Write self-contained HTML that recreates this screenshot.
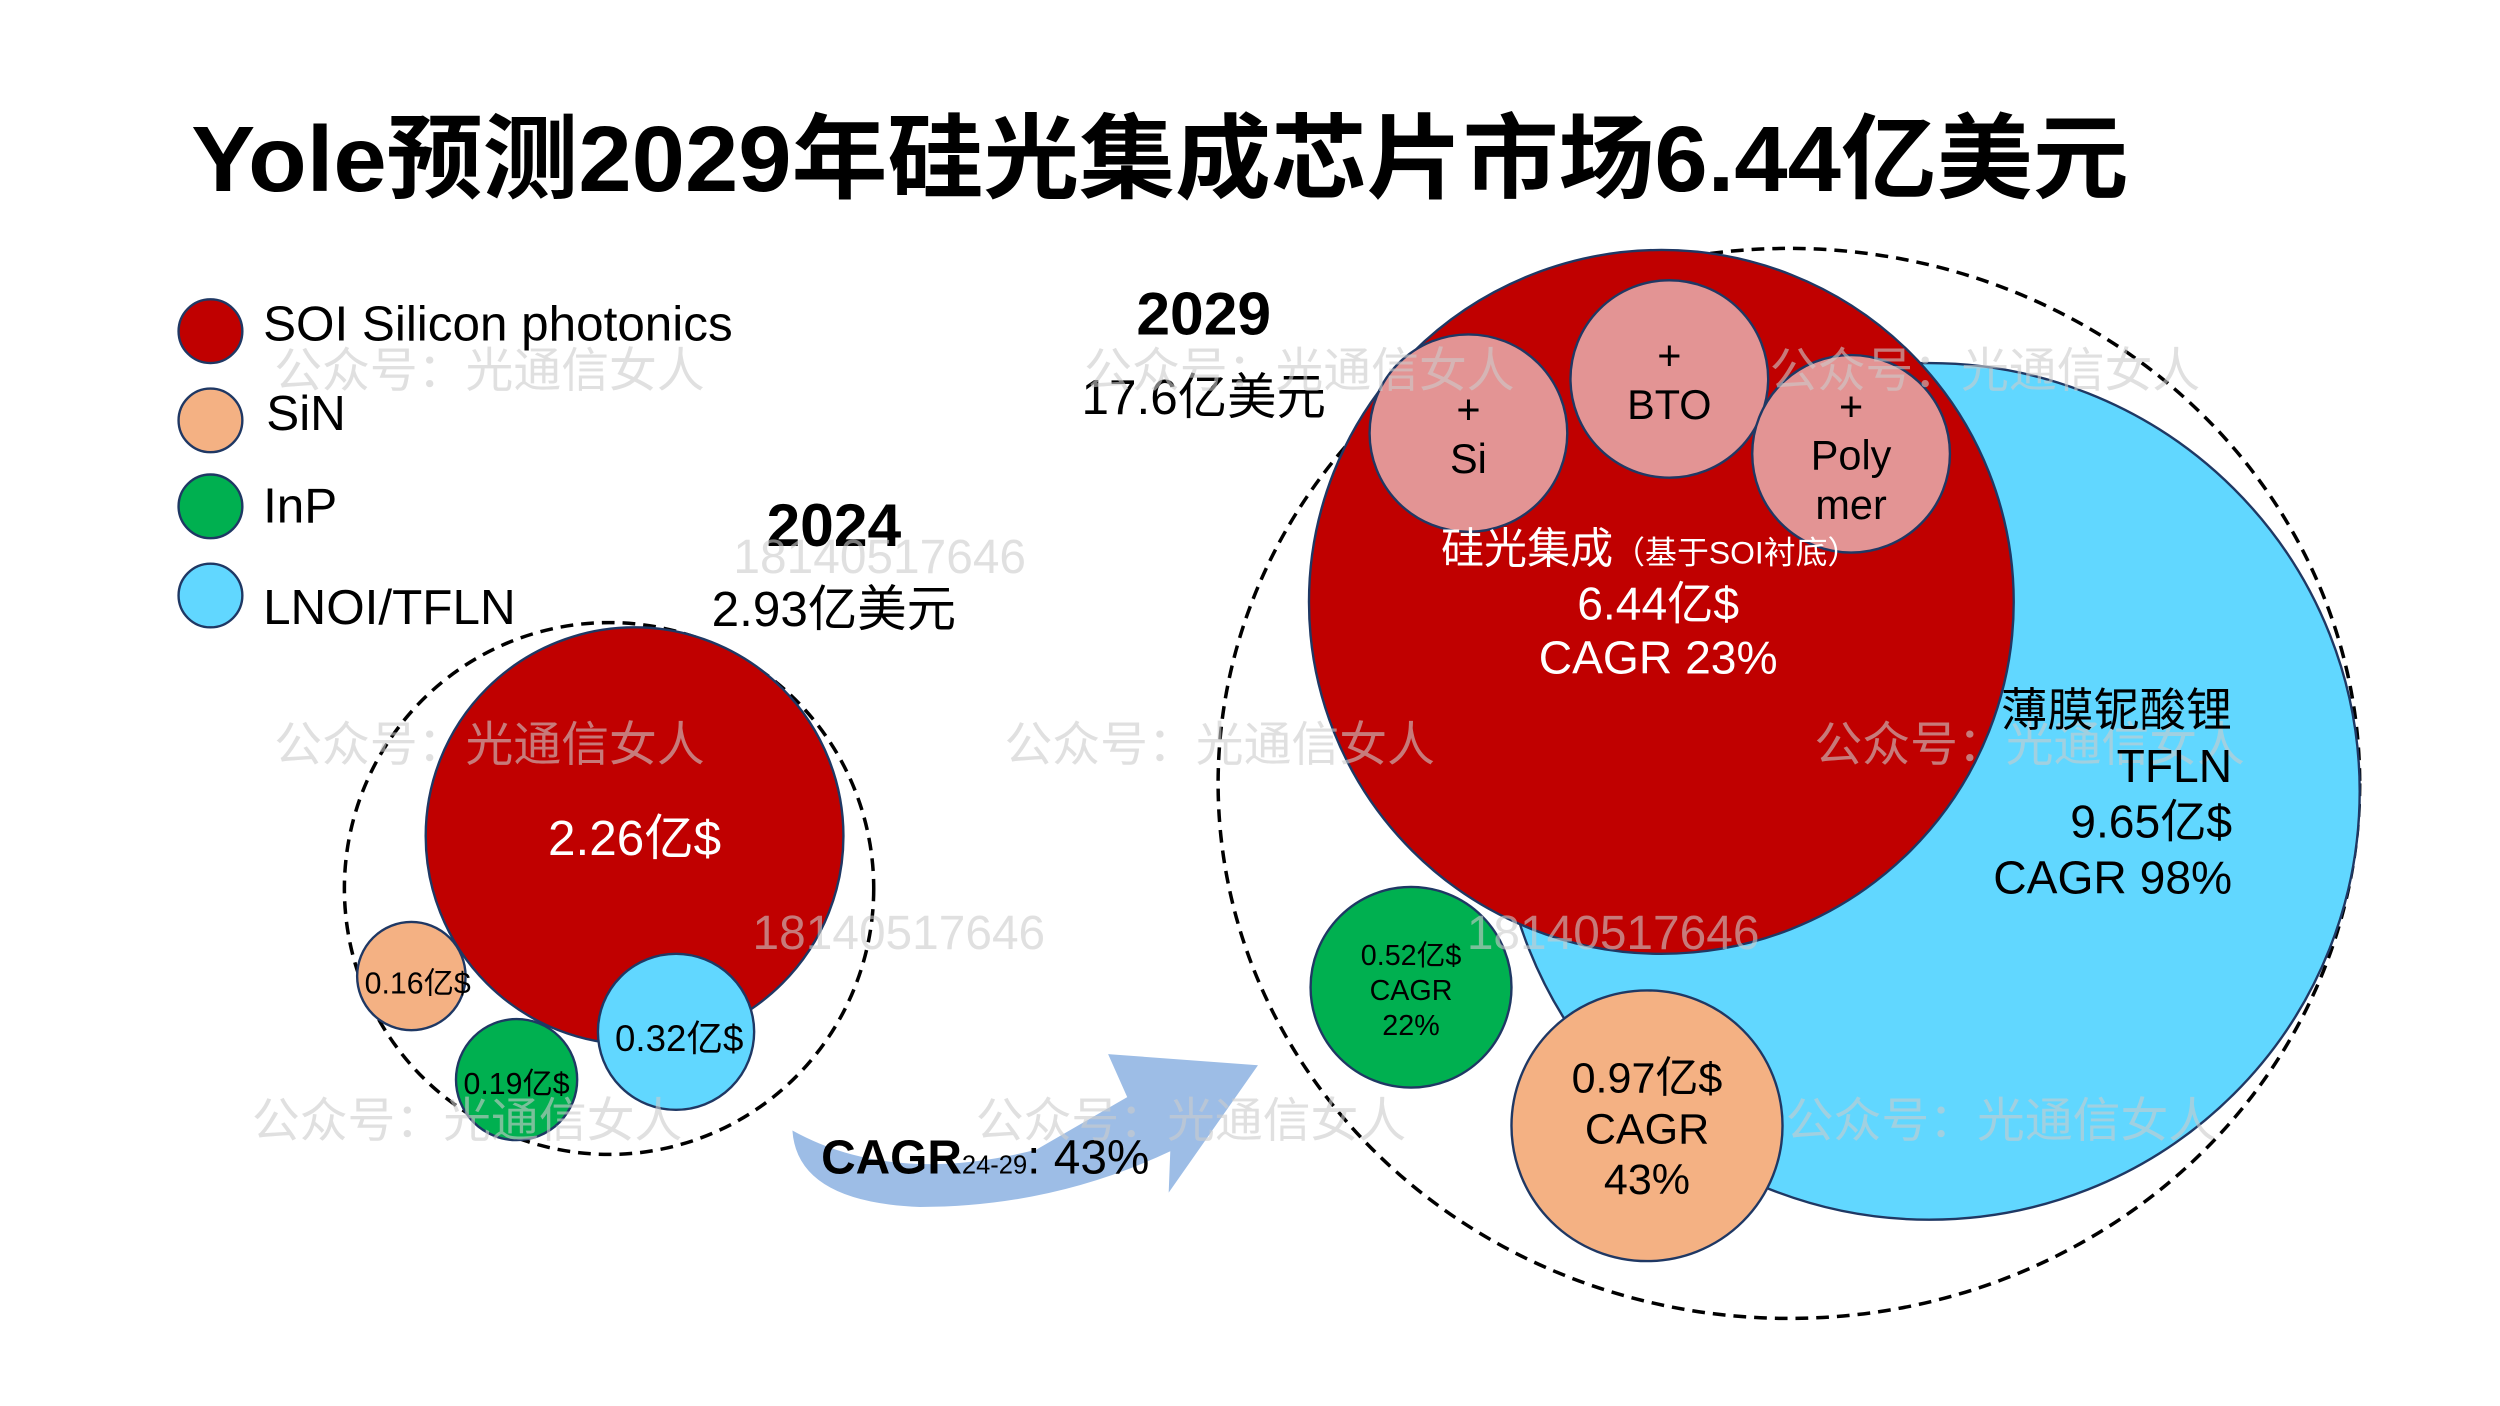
<!DOCTYPE html>
<html><head><meta charset="utf-8"><style>
html,body{margin:0;padding:0;background:#fff;}
svg{display:block;}
text{font-family:"Liberation Sans","Noto Sans CJK SC",sans-serif;}
</style></head><body>
<svg width="2500" height="1406" viewBox="0 0 1568 883" preserveAspectRatio="none" xmlns="http://www.w3.org/2000/svg">
<rect width="1568" height="883" fill="#fff"/>
<!-- title -->
<text x="120" y="120" font-size="58" font-weight="bold" fill="#000" textLength="1215" lengthAdjust="spacingAndGlyphs">Yole预测2029年硅光集成芯片市场6.44亿美元</text>
<!-- legend -->
<g stroke="#1f3864" stroke-width="1.5">
<circle cx="132" cy="208" r="20" fill="#c00000"/>
<circle cx="132" cy="264" r="20" fill="#f4b183"/>
<circle cx="132" cy="318" r="20" fill="#00b050"/>
<circle cx="132" cy="374" r="20" fill="#61d7ff"/>
</g>
<g font-size="31" fill="#000">
<text x="165" y="214">SOI Silicon photonics</text>
<text x="167" y="270">SiN</text>
<text x="165" y="328">InP</text>
<text x="165" y="392">LNOI/TFLN</text>
</g>
<!-- 2024 -->
<text x="523" y="343" font-size="38" font-weight="bold" text-anchor="middle">2024</text>
<text x="523" y="393" font-size="31" text-anchor="middle">2.93亿美元</text>
<ellipse cx="382" cy="558" rx="166" ry="167" fill="none" stroke="#000" stroke-width="2.2" stroke-dasharray="8,5"/>
<g stroke="#1f3864" stroke-width="1.5">
<circle cx="398" cy="525" r="131" fill="#c00000"/>
<circle cx="258" cy="613" r="34" fill="#f4b183"/>
<circle cx="324" cy="678" r="38" fill="#00b050"/>
<circle cx="424" cy="648" r="49" fill="#61d7ff"/>
</g>
<text x="398" y="537" font-size="31" fill="#fff" text-anchor="middle">2.26亿$</text>
<text x="262" y="624" font-size="19" text-anchor="middle">0.16亿$</text>
<text x="324" y="687" font-size="19" text-anchor="middle">0.19亿$</text>
<text x="426" y="660" font-size="23" text-anchor="middle">0.32亿$</text>
<!-- arrow -->
<path d="M497,710 Q560,745 650,722 L707,689 L695,662 L789,669 L733,749 L734,723 Q660,758 577,758 Q500,755 497,710 Z" fill="#9dbde6"/>
<text x="515" y="737" font-size="30" font-weight="bold">CAGR<tspan font-size="16" font-weight="normal">24-29</tspan><tspan font-weight="normal">:  43%</tspan></text>
<!-- 2029 -->
<text x="755" y="210" font-size="38" font-weight="bold" text-anchor="middle">2029</text>
<text x="755" y="260" font-size="31" text-anchor="middle">17.6亿美元</text>
<ellipse cx="1122" cy="492" rx="358" ry="336" fill="none" stroke="#000" stroke-width="2.2" stroke-dasharray="8,5"/>
<g stroke="#1f3864" stroke-width="1.5">
<ellipse cx="1210" cy="497" rx="270" ry="269" fill="#61d7ff"/>
<circle cx="1042" cy="378" r="221" fill="#c00000"/>
<circle cx="921" cy="272" r="62" fill="#e39494"/>
<circle cx="1047" cy="238" r="62" fill="#e39494"/>
<circle cx="1161" cy="285" r="62" fill="#e39494"/>
<circle cx="885" cy="620" r="63" fill="#00b050"/>
<circle cx="1033" cy="707" r="85" fill="#f4b183"/>
</g>
<!-- watermarks -->
<g font-size="30" fill="#ccc" opacity="0.6" font-family="Liberation Serif,'Noto Serif CJK SC',serif">
<text x="172" y="243">公众号：光通信女人</text>
<text x="680" y="243">公众号：光通信女人</text>
<text x="1110" y="243">公众号：光通信女人</text>
<text x="172" y="478">公众号：光通信女人</text>
<text x="630" y="478">公众号：光通信女人</text>
<text x="1138" y="478">公众号：光通信女人</text>
<text x="158" y="714">公众号：光通信女人</text>
<text x="612" y="714">公众号：光通信女人</text>
<text x="1120" y="714">公众号：光通信女人</text>
<text x="460" y="360">18140517646</text>
<text x="472" y="596">18140517646</text>
<text x="920" y="596">18140517646</text>
</g>
<g font-size="26" text-anchor="middle" fill="#000">
<text x="921" y="266">+</text><text x="921" y="297">Si</text>
<text x="1047" y="232">+</text><text x="1047" y="263">BTO</text>
<text x="1161" y="264">+</text><text x="1161" y="295">Poly</text><text x="1161" y="326">mer</text>
</g>
<g fill="#fff" text-anchor="middle">
<text x="1035" y="354" font-size="27">硅光集成<tspan font-size="20">（基于SOI衬底）</tspan></text>
<text x="1040" y="389" font-size="29">6.44亿$</text>
<text x="1040" y="423" font-size="29">CAGR 23%</text>
</g>
<g font-size="29" text-anchor="end" fill="#000">
<text x="1400" y="456">薄膜铌酸锂</text>
<text x="1400" y="491">TFLN</text>
<text x="1400" y="526">9.65亿$</text>
<text x="1400" y="561">CAGR 98%</text>
</g>
<g font-size="18" text-anchor="middle">
<text x="885" y="606">0.52亿$</text><text x="885" y="628">CAGR</text><text x="885" y="650">22%</text>
</g>
<g font-size="27" text-anchor="middle">
<text x="1033" y="686">0.97亿$</text><text x="1033" y="718">CAGR</text><text x="1033" y="750">43%</text>
</g>
</svg>
</body></html>
